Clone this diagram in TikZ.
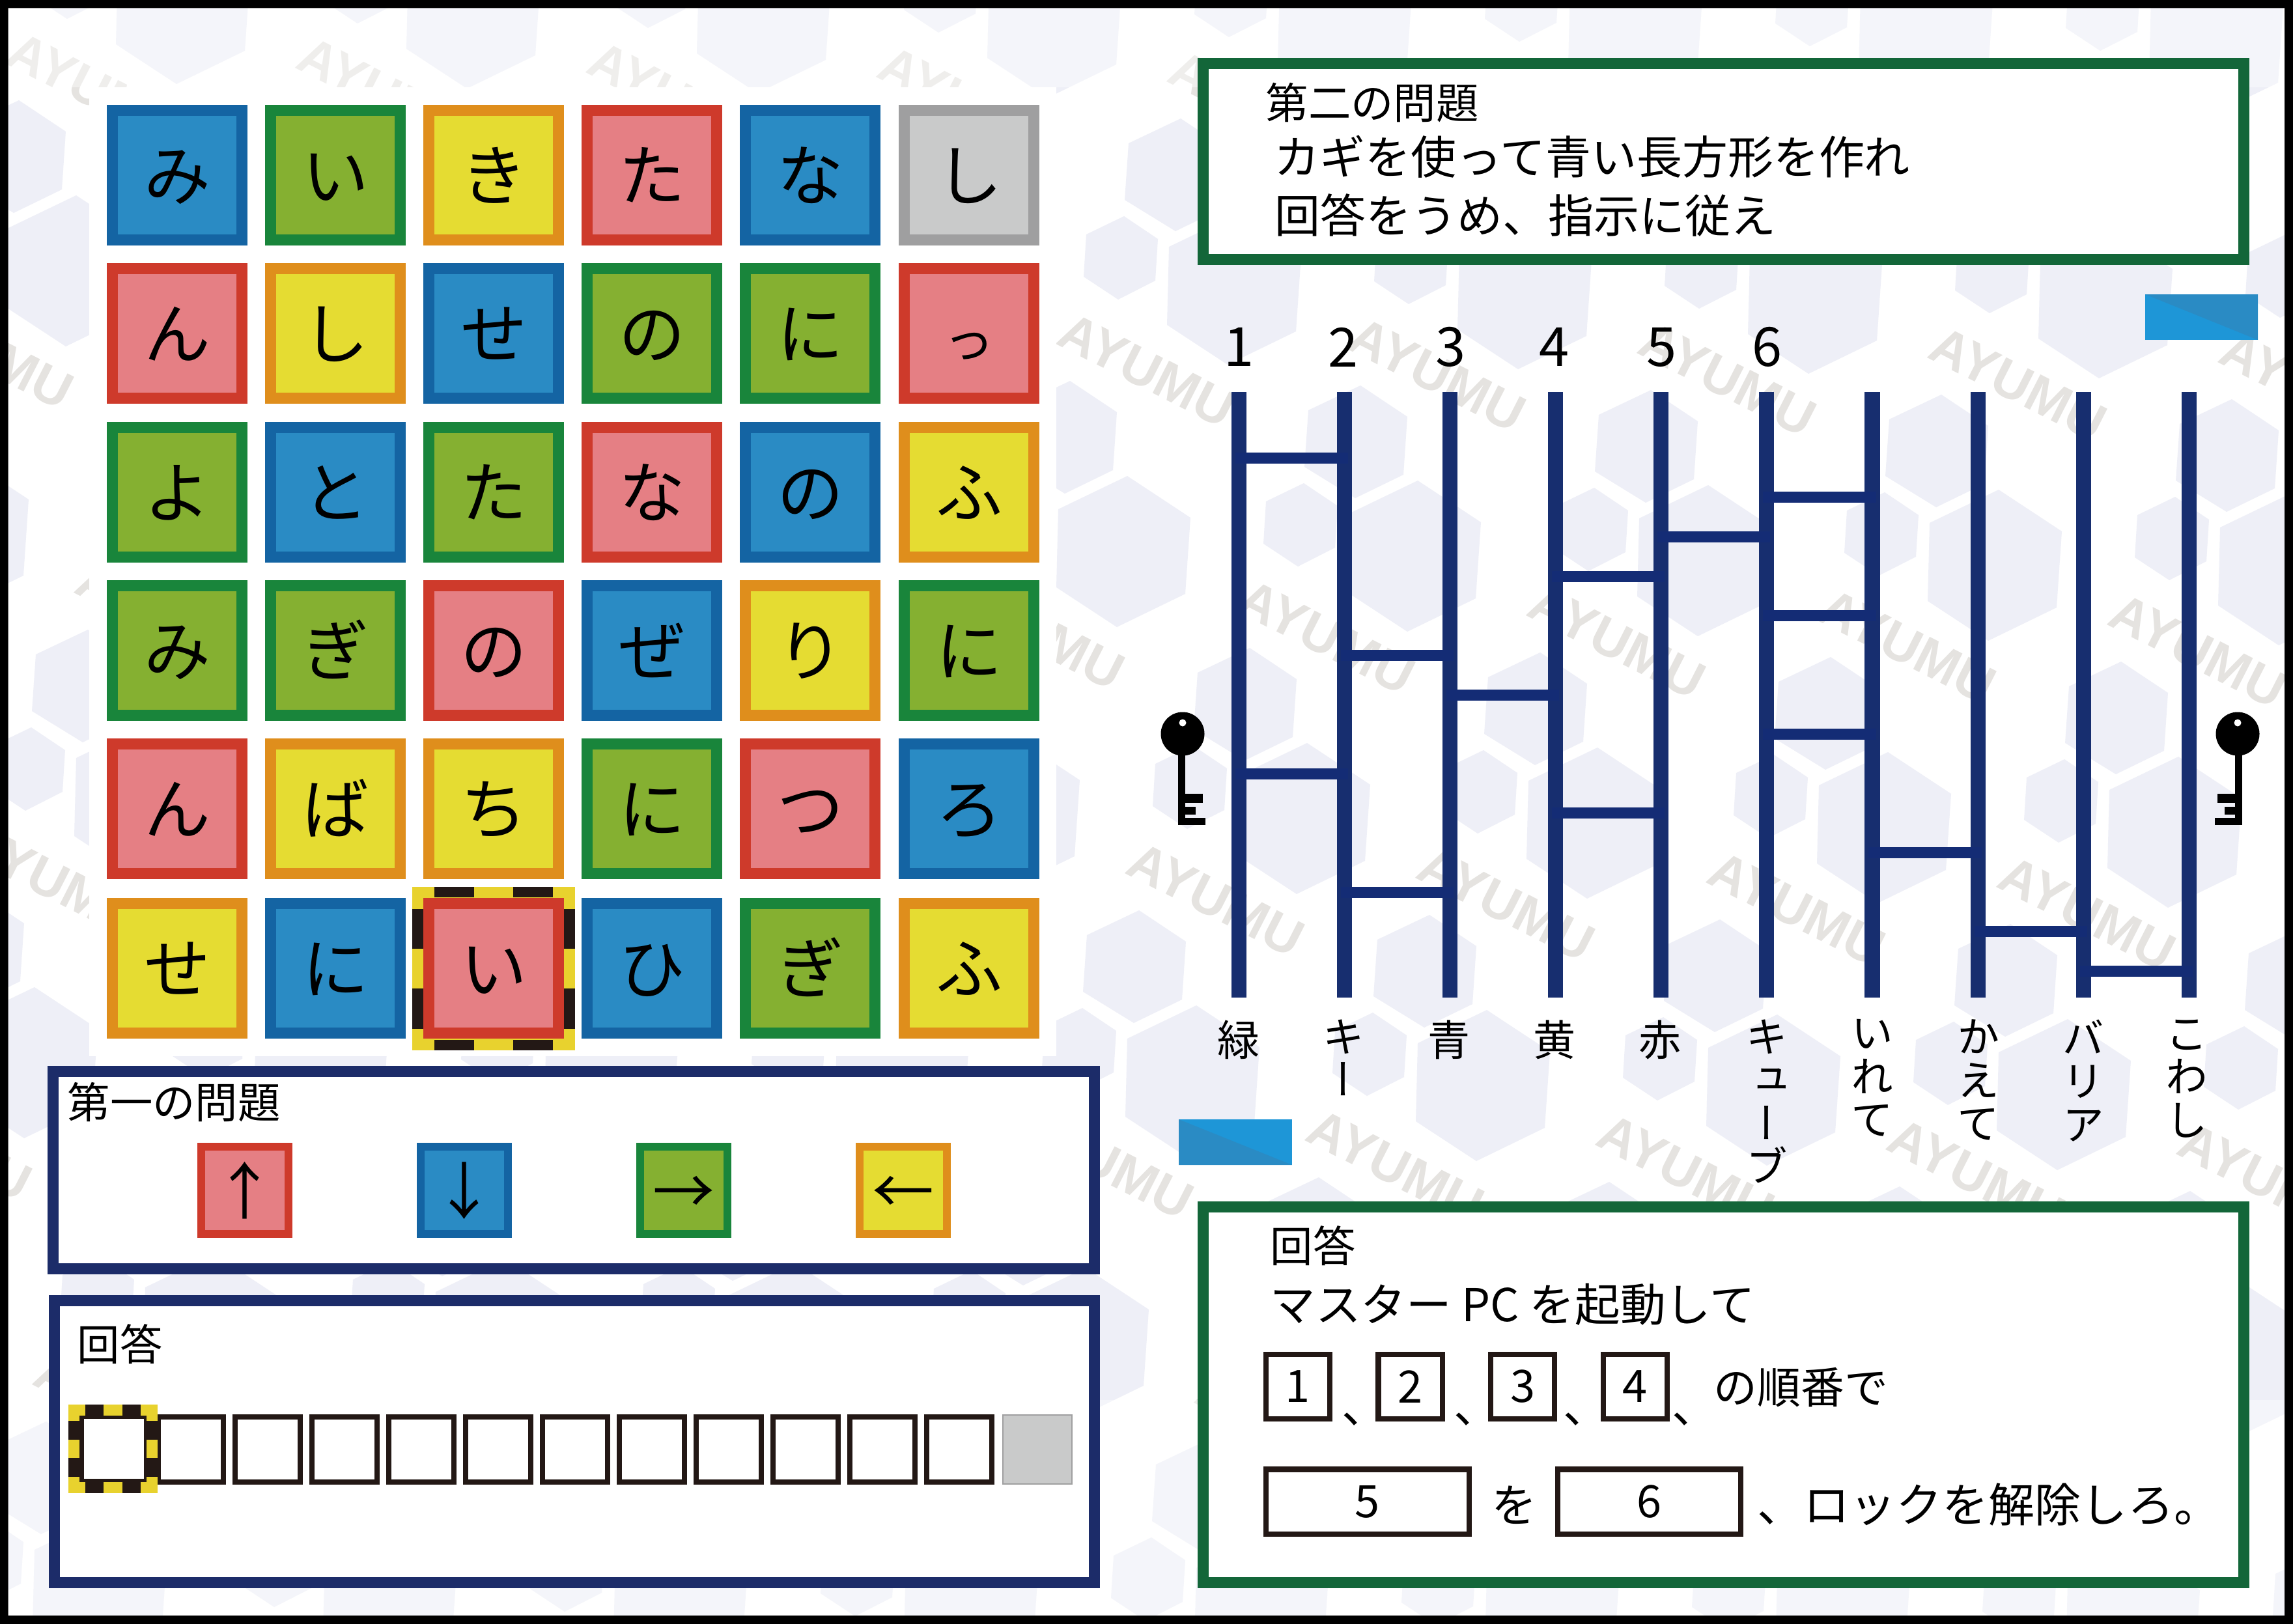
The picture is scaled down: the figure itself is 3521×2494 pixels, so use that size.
\documentclass[tikz,border=0pt]{standalone}
\usepackage{fontspec}
\usepackage{tikz}
\newfontfamily\jpfont{Noto Sans CJK JP}
\newfontfamily\jpvert[RawFeature={+vert}]{Noto Sans CJK JP}
\newfontfamily\markfont{Liberation Sans}

\definecolor{blueface}{HTML}{2A8BC4}
\definecolor{blueedge}{HTML}{1464A3}
\definecolor{greenface}{HTML}{85B031}
\definecolor{greenedge}{HTML}{19853B}
\definecolor{yellowface}{HTML}{E5DC32}
\definecolor{yellowedge}{HTML}{DF8E1C}
\definecolor{redface}{HTML}{E57F84}
\definecolor{rededge}{HTML}{CE3A2B}
\definecolor{grayface}{HTML}{C9CACA}
\definecolor{grayedge}{HTML}{9F9FA0}
\definecolor{navypanel}{HTML}{1C2C69}
\definecolor{greenpanel}{HTML}{136639}
\definecolor{ladderline}{HTML}{172E6F}
\definecolor{ladderrung}{HTML}{142C75}
\definecolor{hazardyellow}{HTML}{E8D22E}
\definecolor{inkblack}{HTML}{231815}
\definecolor{hexpale}{HTML}{EEEFF7}
\definecolor{markgray}{HTML}{E5E3E0}
\definecolor{tagbright}{HTML}{1E96D7}

\tikzset{
  tile/.style={draw, line width=0.17cm, minimum size=1.99cm, inner sep=0pt,
    text height=0.897cm, text depth=0.122cm,
    font=\jpfont\fontsize{29}{29}\selectfont},
  bluetile/.style={tile, fill=blueface, draw=blueedge},
  greentile/.style={tile, fill=greenface, draw=greenedge},
  yellowtile/.style={tile, fill=yellowface, draw=yellowedge},
  redtile/.style={tile, fill=redface, draw=rededge},
  graytile/.style={tile, fill=grayface, draw=grayedge},
  arrowtile/.style={line width=0.12cm, minimum size=1.34cm,
    text height=0.836cm, text depth=0.114cm,
    font=\jpfont\fontsize{27}{27}\selectfont},
  hintline/.style={anchor=west, inner sep=0pt, font=\jpfont\fontsize{19.8}{19.8}\selectfont},
  headline/.style={anchor=west, inner sep=0pt, font=\jpfont\fontsize{18.6}{18.6}\selectfont},
  blankbox/.style={draw=inkblack, fill=white, line width=0.08cm, inner sep=0pt,
    font=\jpfont\fontsize{19.5}{19.5}\selectfont},
  rung/.style={fill=ladderrung},
  ladderno/.style={inner sep=0pt, font=\jpfont\fontsize{23.6}{23.6}\selectfont},
  laddertag/.style={anchor=north, align=center, inner sep=0pt,
    execute at begin node=\rule{0pt}{16pt},
    font=\jpvert\fontsize{18.5}{18.9}\selectfont},
  hazard/.style={fill=inkblack}
}

\begin{document}
\begin{tikzpicture}[x=0.01cm, y=-0.01cm]
  \useasboundingbox (0,0) rectangle (3521,2494);
  \fill[white] (0,0) rectangle (3521,2494);

  % =========== 背景：六角形与水印 ===========
  \begin{scope}
    \clip (0,0) rectangle (3521,2494);
    \foreach \m in {-6,...,6} {
      \foreach \n in {-2,...,5} {
        \begin{scope}[shift={({446*\m-170*\n},{7*\m+403*\n})}]
          % 大
          \fill[hexpale] (1731,731) -- ++(97,64) -- ++(-8,117) -- ++(-105,51) -- ++(-93,-61) -- ++(3,-120) -- cycle;
          % 中
          \fill[hexpale] (2089,592) -- ++(72,48) -- ++(-6,89) -- ++(-74,36) -- ++(-78,-48) -- ++(6,-87) -- cycle;
          % 小
          \fill[hexpale] (2002,742) -- ++(52,35) -- ++(-4,64) -- ++(-57,29) -- ++(-53,-35) -- ++(4,-65) -- cycle;
          \node[text=markgray, rotate=-27, inner sep=0pt, font=\markfont\bfseries\fontsize{23}{23}\selectfont]
            at (2207,576) {AYUMU};
        \end{scope}
      }
    }
    % 上下两端颜色较淡
    \fill[white, opacity=0.4] (0,0) rectangle (3521,134);
    \fill[white, opacity=0.4] (0,2150) rectangle (3521,2494);
  \end{scope}
  \fill[white] (137,134) rectangle (1622,1622);

  % =========== 外框 ===========
  \fill[black, even odd rule] (0,0) rectangle (3521,2494) (12.5,12.5) rectangle (3508,2481);

  % =========== 文字方格 ===========
  % 选中方格的黄黑框
  \fill[hazardyellow] (633.4,1361.5) rectangle (882.6,1613);
  \fill[hazard] (667,1361.5) rectangle (728,1378);
  \fill[hazard] (788,1361.5) rectangle (848.5,1378);
  \fill[hazard] (667,1596.5) rectangle (728,1613);
  \fill[hazard] (788,1596.5) rectangle (848.5,1613);
  \fill[hazard] (633.4,1395.7) rectangle (651,1457);
  \fill[hazard] (633.4,1518) rectangle (651,1579.6);
  \fill[hazard] (866,1395.7) rectangle (882.6,1457);
  \fill[hazard] (866,1518) rectangle (882.6,1579.6);

  \node[bluetile] (t11) at (272,269) {み};
  \node[greentile] (t12) at (515,269) {い};
  \node[yellowtile] (t13) at (758,269) {き};
  \node[redtile] (t14) at (1001,269) {た};
  \node[bluetile] (t15) at (1244,269) {な};
  \node[graytile] (t16) at (1488,269) {し};

  \node[redtile] (t21) at (272,512) {ん};
  \node[yellowtile] (t22) at (515,512) {し};
  \node[bluetile] (t23) at (758,512) {せ};
  \node[greentile] (t24) at (1001,512) {の};
  \node[greentile] (t25) at (1244,512) {に};
  \node[redtile, font=\jpfont\fontsize{22}{22}\selectfont] (t26) at (1488,512) {っ};

  \node[greentile] (t31) at (272,756) {よ};
  \node[bluetile] (t32) at (515,756) {と};
  \node[greentile] (t33) at (758,756) {た};
  \node[redtile] (t34) at (1001,756) {な};
  \node[bluetile] (t35) at (1244,756) {の};
  \node[yellowtile] (t36) at (1488,756) {ふ};

  \node[greentile] (t41) at (272,999) {み};
  \node[greentile] (t42) at (515,999) {ぎ};
  \node[redtile] (t43) at (758,999) {の};
  \node[bluetile] (t44) at (1001,999) {ぜ};
  \node[yellowtile] (t45) at (1244,999) {り};
  \node[greentile] (t46) at (1488,999) {に};

  \node[redtile] (t51) at (272,1242) {ん};
  \node[yellowtile] (t52) at (515,1242) {ば};
  \node[yellowtile] (t53) at (758,1242) {ち};
  \node[greentile] (t54) at (1001,1242) {に};
  \node[redtile] (t55) at (1244,1242) {つ};
  \node[bluetile] (t56) at (1488,1242) {ろ};

  \node[yellowtile] (t61) at (272,1487) {せ};
  \node[bluetile] (t62) at (515,1487) {に};
  \node[redtile] (t63) at (758,1487) {い};
  \node[bluetile] (t64) at (1001,1487) {ひ};
  \node[greentile] (t65) at (1244,1487) {ぎ};
  \node[yellowtile] (t66) at (1488,1487) {ふ};

  % =========== 第一の問題 ===========
  \node[draw=navypanel, fill=white, line width=0.17cm, minimum width=15.98cm, minimum height=3.02cm,
    inner sep=0pt] (panelone) at (881.3,1797) {};
  \node[headline] (titleone) at (103,1693) {第一の問題};
  \node[redtile, arrowtile] (arrowup) at (376,1828) {↑};
  \node[bluetile, arrowtile] (arrowdown) at (713,1828) {↓};
  \node[greentile, arrowtile] (arrowright) at (1050,1828) {→};
  \node[yellowtile, arrowtile] (arrowleft) at (1387,1828) {←};

  % =========== 第一の回答 ===========
  \node[draw=navypanel, fill=white, line width=0.17cm, minimum width=15.96cm, minimum height=4.33cm,
    inner sep=0pt] (paneltwo) at (882,2214) {};
  \node[headline] (titletwo) at (118,2064) {回答};
  \node[blankbox, minimum size=1.00cm] (ans1) at (293,2226) {};
  \node[blankbox, minimum size=1.00cm] (ans2) at (411,2226) {};
  \node[blankbox, minimum size=1.00cm] (ans3) at (529,2226) {};
  \node[blankbox, minimum size=1.00cm] (ans4) at (647,2226) {};
  \node[blankbox, minimum size=1.00cm] (ans5) at (765,2226) {};
  \node[blankbox, minimum size=1.00cm] (ans6) at (883,2226) {};
  \node[blankbox, minimum size=1.00cm] (ans7) at (1001,2226) {};
  \node[blankbox, minimum size=1.00cm] (ans8) at (1119,2226) {};
  \node[blankbox, minimum size=1.00cm] (ans9) at (1237,2226) {};
  \node[blankbox, minimum size=1.00cm] (ans10) at (1355,2226) {};
  \node[blankbox, minimum size=1.00cm] (ans11) at (1473,2226) {};
  \node[draw=grayedge, fill=grayface, line width=0.02cm, minimum size=1.06cm, inner sep=0pt] (ans12) at (1593,2226) {};
  % 选中方格
  \fill[hazardyellow] (105,2157) rectangle (242,2293);
  \fill[hazard] (131,2157) rectangle (159,2174);
  \fill[hazard] (188,2157) rectangle (216,2174);
  \fill[hazard] (131,2276) rectangle (159,2293);
  \fill[hazard] (188,2276) rectangle (216,2293);
  \fill[hazard] (105,2182) rectangle (122,2211);
  \fill[hazard] (105,2239) rectangle (122,2268);
  \fill[hazard] (225,2182) rectangle (242,2211);
  \fill[hazard] (225,2239) rectangle (242,2268);
  \fill[hazard] (122,2174) rectangle (225,2276);
  \fill[white] (129,2179) rectangle (221,2271);

  % =========== 第二の問題 ===========
  \node[draw=greenpanel, fill=white, line width=0.17cm, minimum width=15.97cm, minimum height=3.01cm,
    inner sep=0pt] (panelthree) at (2646.5,247.8) {};
  \node[headline] (titlethree) at (1943,158) {第二の問題};
  \node[hintline, font=\jpfont\fontsize{19.9}{19.9}\selectfont] (hinta) at (1956,241) {カギを使って青い長方形を作れ};
  \node[hintline, font=\jpfont\fontsize{19.9}{19.9}\selectfont] (hintb) at (1957,331) {回答をうめ、指示に従え};

  % =========== 长方形色块 ===========
  \fill[tagbright] (3294,452) rectangle (3467,522);
  \fill[blueface] (3294,452) -- (3467,452) -- (3467,522) -- cycle;
  \fill[tagbright] (1810,1719) rectangle (1984,1789);
  \fill[blueface] (1810,1719) -- (1984,1789) -- (1810,1789) -- cycle;

  % =========== 阿弥陀 ===========
  \node[ladderno] (no1) at (1903,533) {1};
  \node[ladderno] (no2) at (2063,533) {2};
  \node[ladderno] (no3) at (2227,533) {3};
  \node[ladderno] (no4) at (2386,533) {4};
  \node[ladderno] (no5) at (2551,533) {5};
  \node[ladderno] (no6) at (2713,533) {6};

  \fill[ladderline] (1891,602) rectangle (1914,1532);
  \fill[ladderline] (2053,602) rectangle (2076,1532);
  \fill[ladderline] (2215,602) rectangle (2238,1532);
  \fill[ladderline] (2377,602) rectangle (2400,1532);
  \fill[ladderline] (2539,602) rectangle (2562,1532);
  \fill[ladderline] (2701,602) rectangle (2724,1532);
  \fill[ladderline] (2863,602) rectangle (2887,1532);
  \fill[ladderline] (3026,602) rectangle (3049,1532);
  \fill[ladderline] (3188,602) rectangle (3211,1532);
  \fill[ladderline] (3350,602) rectangle (3373,1532);

  \fill[rung] (1897,695) rectangle (2070,712);
  \fill[rung] (1897,1180) rectangle (2070,1197);
  \fill[rung] (2059,998) rectangle (2232,1015);
  \fill[rung] (2059,1362) rectangle (2232,1379);
  \fill[rung] (2221,1059) rectangle (2394,1076);
  \fill[rung] (2383,877) rectangle (2556,894);
  \fill[rung] (2383,1240) rectangle (2556,1257);
  \fill[rung] (2545,816) rectangle (2718,833);
  \fill[rung] (2707,755) rectangle (2881,772);
  \fill[rung] (2707,937) rectangle (2881,954);
  \fill[rung] (2707,1119) rectangle (2881,1136);
  \fill[rung] (2869,1301) rectangle (3043,1318);
  \fill[rung] (3032,1422) rectangle (3205,1439);
  \fill[rung] (3194,1483) rectangle (3367,1500);

  \node[laddertag] (tag1) at (1902,1565) {緑};
  \node[laddertag] (tag2) at (2063,1565) {キ\\ー};
  \node[laddertag] (tag3) at (2225,1565) {青};
  \node[laddertag] (tag4) at (2387,1565) {黄};
  \node[laddertag] (tag5) at (2549,1565) {赤};
  \node[laddertag] (tag6) at (2713,1565) {キ\\ュ\\ー\\ブ};
  \node[laddertag] (tag7) at (2875,1565) {い\\れ\\て};
  \node[laddertag] (tag8) at (3038,1565) {か\\え\\て};
  \node[laddertag] (tag9) at (3199,1565) {バ\\リ\\ア};
  \node[laddertag] (tag10) at (3358,1565) {こ\\わ\\し};

  % =========== 钥匙 ===========
  \begin{scope}[shift={(0,0)}]
    \fill[black] (1816,1127) circle[radius=33.5];
    \fill[white] (1816,1110) circle[radius=5.5];
    \fill[black] (1809,1150) rectangle (1820,1267);
    \fill[black] (1820,1219) rectangle (1847,1233);
    \fill[black] (1820,1239) rectangle (1836,1251);
    \fill[black] (1820,1256) rectangle (1851,1267);
  \end{scope}
  % 右侧钥匙左右翻转
  \begin{scope}[shift={(5252,0)}, xscale=-1]
    \fill[black] (1816,1127) circle[radius=33.5];
    \fill[white] (1816,1110) circle[radius=5.5];
    \fill[black] (1809,1150) rectangle (1820,1267);
    \fill[black] (1820,1219) rectangle (1847,1233);
    \fill[black] (1820,1239) rectangle (1836,1251);
    \fill[black] (1820,1256) rectangle (1851,1267);
  \end{scope}

  % =========== 第二の回答 ===========
  \node[draw=greenpanel, fill=white, line width=0.17cm, minimum width=15.97cm, minimum height=5.76cm,
    inner sep=0pt] (panelfour) at (2646.5,2142) {};
  \node[headline] (titlefour) at (1950,1913) {回答};
  \node[hintline] (startline) at (1950,2003) {マスター PC を起動して};

  \node[blankbox, minimum width=0.98cm, minimum height=0.99cm] (no1box) at (1993,2129.5) {1};
  \node[blankbox, minimum width=0.98cm, minimum height=0.99cm] (no2box) at (2165.5,2129.5) {2};
  \node[blankbox, minimum width=0.98cm, minimum height=0.99cm] (no3box) at (2338,2129.5) {3};
  \node[blankbox, minimum width=0.98cm, minimum height=0.99cm] (no4box) at (2510.5,2129.5) {4};
  \node[hintline] (commaa) at (2060,2180) {、};
  \node[hintline] (commab) at (2232,2180) {、};
  \node[hintline] (commac) at (2400,2180) {、};
  \node[hintline] (commad) at (2567,2180) {、};
  \node[headline, font=\jpfont\fontsize{19}{19}\selectfont] (orderline) at (2631,2131) {の順番で};

  \node[blankbox, minimum width=3.12cm, minimum height=0.99cm] (no5box) at (2100,2306) {5};
  \node[hintline] (objectmark) at (2290,2311) {を};
  \node[blankbox, minimum width=2.81cm, minimum height=0.99cm] (no6box) at (2532.5,2306) {6};
  \node[hintline, font=\jpfont\fontsize{20.2}{20.2}\selectfont] (unlockline) at (2698,2311) {、ロックを解除しろ。};
\end{tikzpicture}
\end{document}
